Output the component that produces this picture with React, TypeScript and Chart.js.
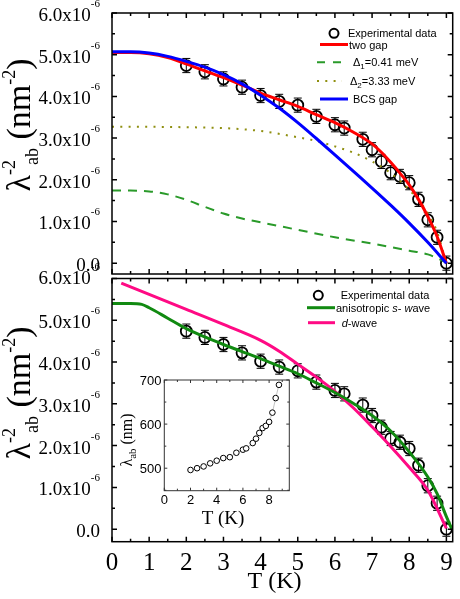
import React, { useEffect, useRef } from "react";
import { Chart, registerables } from "chart.js";
Chart.register(...registerables);

// ---- data (lambda^-2 in units of 1e-6 nm^-2) ----
const expT = [2, 2.5, 3, 3.5, 4, 4.5, 5, 5.5, 6, 6.25, 6.75, 7, 7.25, 7.5, 7.75, 8, 8.25, 8.5, 8.75, 9];
const expVal = [4.74, 4.59, 4.42, 4.22, 4.02, 3.88, 3.79, 3.52, 3.32, 3.24, 2.97, 2.72, 2.44, 2.17, 2.08, 1.93, 1.53, 1.04, 0.62, 0.0];
const expErr = 0.17;

const twoGapT = [0, 0.5, 1, 1.5, 2, 2.5, 3, 3.5, 4, 4.5, 5, 5.5, 6, 6.5, 7, 7.25, 7.5, 7.75, 8, 8.25, 8.5, 8.75, 9];
const twoGapVal = [5.05, 5.05, 5.02, 4.93, 4.78, 4.61, 4.45, 4.27, 4.08, 3.92, 3.76, 3.56, 3.37, 3.14, 2.86, 2.66, 2.42, 2.16, 1.88, 1.53, 1.12, 0.64, 0];

const gap1T = [0, 0.5, 1, 1.5, 2, 2.5, 3, 3.5, 4, 5, 6, 7, 8, 8.5, 9];
const gap1Val = [1.74, 1.74, 1.72, 1.65, 1.52, 1.35, 1.19, 1.07, 0.98, 0.8, 0.62, 0.47, 0.3, 0.21, 0.02];

const gap2T = [0, 1, 2, 3, 4, 5, 5.5, 6, 6.5, 7, 7.5, 8, 8.5, 8.75, 9];
const gap2Val = [3.27, 3.27, 3.26, 3.24, 3.17, 3.02, 2.93, 2.8, 2.65, 2.44, 2.16, 1.76, 1.2, 0.75, 0];

const bcsT = [0, 0.5, 1, 1.5, 2, 2.5, 3, 3.5, 4, 4.5, 5, 5.5, 6, 6.5, 7, 7.5, 8, 8.5, 9];
const bcsVal = [5.07, 5.07, 5.04, 4.96, 4.84, 4.7, 4.52, 4.3, 4.03, 3.72, 3.37, 2.99, 2.6, 2.2, 1.8, 1.39, 0.96, 0.5, 0];

const sWaveT = [0, 0.5, 0.8, 1, 1.5, 2, 2.5, 3, 3.5, 4, 4.5, 5, 5.5, 6, 6.5, 7, 7.5, 8, 8.5, 8.75, 9, 9.15];
const sWaveVal = [5.4, 5.4, 5.38, 5.3, 5.05, 4.8, 4.6, 4.42, 4.25, 4.08, 3.9, 3.72, 3.5, 3.27, 3.01, 2.72, 2.35, 1.85, 1.25, 0.85, 0.3, 0];

const dWaveT = [0.25, 1, 2, 3, 4, 4.5, 5, 5.5, 6, 6.5, 7, 7.5, 8, 8.5, 9];
const dWaveVal = [5.89, 5.62, 5.26, 4.9, 4.52, 4.26, 3.95, 3.64, 3.3, 2.9, 2.45, 1.98, 1.48, 0.93, 0.02];

const insetT = [2, 2.5, 3, 3.5, 4, 4.5, 5, 5.5, 6, 6.25, 6.75, 7, 7.25, 7.5, 7.75, 8, 8.25, 8.5, 8.75];
const insetLambda = [496, 500, 504, 511, 517, 523, 525, 535, 542, 545, 557, 567, 580, 591, 596, 605, 626, 659, 689];

const mainXTicks = [0, 1, 2, 3, 4, 5, 6, 7, 8, 9];
const mainYTicks = [0, 1, 2, 3, 4, 5, 6];
const insetXTicks = [0, 2, 4, 6, 8];
const insetYTicks = [500, 600, 700];

const SERIF = "'Liberation Serif', 'Times New Roman', serif";
const SANS = "'Liberation Sans', Arial, sans-serif";

const RED = "#ff0000";
const BLUE = "#0000ff";
const GREEN_D = "#2a9a2a";
const OLIVE = "#8f8f10";
const GREEN_S = "#118a11";
const MAGENTA = "#ff0a84";

const pts = (xs: number[], ys: number[]) => xs.map((x, i) => ({ x, y: ys[i] }));

type Seg = { t: string; size: number; dy?: number; dx?: number; italic?: boolean; fam?: string };
function fontOf(s: Seg, fam: string) {
  return `${s.italic ? "italic " : ""}${s.size}px ${s.fam || fam}`;
}
function drawSegs(ctx: CanvasRenderingContext2D, segs: Seg[], x: number, y: number, align: string, fam: string) {
  let total = 0;
  const ws = segs.map((s) => {
    ctx.font = fontOf(s, fam);
    const w = ctx.measureText(s.t).width;
    total += w + (s.dx || 0);
    return w;
  });
  let cur = align === "left" ? x : align === "center" ? x - total / 2 : x - total;
  ctx.textAlign = "left";
  ctx.textBaseline = "alphabetic";
  segs.forEach((s, i) => {
    cur += s.dx || 0;
    ctx.font = fontOf(s, fam);
    ctx.fillText(s.t, cur, y + (s.dy || 0));
    cur += ws[i];
  });
}

function drawFrame(chart: any, o: any) {
  const { ctx, chartArea: a, scales } = chart;
  const x = scales.x, y = scales.y;
  ctx.save();
  ctx.strokeStyle = o.color;
  ctx.lineWidth = o.lw;
  ctx.beginPath();
  const line = (x1: number, y1: number, x2: number, y2: number) => {
    ctx.moveTo(x1, y1);
    ctx.lineTo(x2, y2);
  };
  o.xMajor.forEach((v: number) => {
    const p = x.getPixelForValue(v);
    line(p, a.bottom, p, a.bottom - o.maj);
    line(p, a.top, p, a.top + o.maj);
  });
  o.xMinor.forEach((v: number) => {
    const p = x.getPixelForValue(v);
    line(p, a.bottom, p, a.bottom - o.min);
    line(p, a.top, p, a.top + o.min);
  });
  o.yMajor.forEach((v: number) => {
    const p = y.getPixelForValue(v);
    line(a.left, p, a.left + o.maj, p);
    line(a.right, p, a.right - o.maj, p);
  });
  o.yMinor.forEach((v: number) => {
    const p = y.getPixelForValue(v);
    line(a.left, p, a.left + o.min, p);
    line(a.right, p, a.right - o.min, p);
  });
  ctx.stroke();
  ctx.strokeRect(a.left, a.top, a.right - a.left, a.bottom - a.top);
  ctx.restore();
}

function midpoints(t: number[], lo: number, hi: number) {
  const out: number[] = [];
  const step = t[1] - t[0];
  for (let i = 0; i < t.length + 1; i++) {
    const v = t[0] + step * (i - 0.5);
    if (v > lo && v < hi) out.push(v);
  }
  return out;
}

function drawYLabels(chart: any, topShift: number) {
  const { ctx, scales } = chart;
  ctx.save();
  ctx.fillStyle = "#000";
  mainYTicks.forEach((v) => {
    const p = scales.y.getPixelForValue(v) + (v === 6 ? topShift : 0);
    if (v === 0) {
      drawSegs(ctx, [{ t: "0.0", size: 19 }], 100, p + 8, "right", SERIF);
    } else {
      drawSegs(ctx, [{ t: v.toFixed(1) + "x10", size: 19 }, { t: "-6", size: 11, dy: -14 }], 100, p + 8, "right", SERIF);
    }
  });
  ctx.restore();
}

function drawYTitle(ctx: CanvasRenderingContext2D, bx: number, cy: number) {
  ctx.save();
  ctx.fillStyle = "#000";
  ctx.translate(bx, cy);
  ctx.rotate(-Math.PI / 2);
  drawSegs(
    ctx,
    [
      { t: "λ", size: 34 },
      { t: "-2", size: 18, dy: -15 },
      { t: "ab", size: 18, dy: 8, dx: -5 },
      { t: " (nm", size: 34 },
      { t: "-2", size: 18, dy: -15 },
      { t: ")", size: 34 },
    ],
    0,
    0,
    "center",
    SERIF
  );
  ctx.restore();
}

function errorBars(chart: any) {
  const { ctx, scales } = chart;
  ctx.save();
  ctx.strokeStyle = "#000";
  ctx.lineWidth = 1;
  ctx.beginPath();
  expT.forEach((t, i) => {
    const px = scales.x.getPixelForValue(t);
    const y1 = scales.y.getPixelForValue(expVal[i] + expErr);
    const y2 = scales.y.getPixelForValue(expVal[i] - expErr);
    ctx.moveTo(px, y1);
    ctx.lineTo(px, y2);
    ctx.moveTo(px - 4, y1);
    ctx.lineTo(px + 4, y1);
    ctx.moveTo(px - 4, y2);
    ctx.lineTo(px + 4, y2);
  });
  ctx.stroke();
  ctx.restore();
}

function legendCircle(ctx: CanvasRenderingContext2D, x: number, y: number) {
  ctx.beginPath();
  ctx.lineWidth = 2;
  ctx.strokeStyle = "#000";
  ctx.arc(x, y, 4.5, 0, Math.PI * 2);
  ctx.stroke();
}
function legendLine(ctx: CanvasRenderingContext2D, x1: number, x2: number, y: number, color: string, lw: number, dash: number[]) {
  ctx.save();
  ctx.beginPath();
  ctx.strokeStyle = color;
  ctx.lineWidth = lw;
  ctx.setLineDash(dash);
  ctx.moveTo(x1, y);
  ctx.lineTo(x2, y);
  ctx.stroke();
  ctx.restore();
}

const frameMain = {
  color: "#000",
  lw: 1.5,
  maj: 5,
  min: 3,
  xMajor: mainXTicks,
  xMinor: midpoints(mainXTicks, 0, 9.17),
  yMajor: mainYTicks,
  yMinor: midpoints(mainYTicks, -0.3, 6),
};

const topPlugin = {
  id: "topDeco",
  beforeDatasetsDraw(chart: any) {
    errorBars(chart);
  },
  afterDraw(chart: any) {
    const ctx = chart.ctx;
    drawFrame(chart, frameMain);
    drawYLabels(chart, 0);
    drawYTitle(ctx, 30, 125);
    ctx.save();
    ctx.fillStyle = "#000";
    legendCircle(ctx, 334, 33.3);
    drawSegs(ctx, [{ t: "Experimental data", size: 11 }], 348, 37.3, "left", SANS);
    legendLine(ctx, 320, 348, 44.5, RED, 3, []);
    drawSegs(ctx, [{ t: "two gap", size: 11 }], 349, 48.5, "left", SANS);
    legendLine(ctx, 317, 342, 62.3, GREEN_D, 2, [8, 8]);
    drawSegs(ctx, [{ t: "Δ", size: 11 }, { t: "1", size: 8, dy: 3 }, { t: "=0.41 meV", size: 11 }], 353, 66.3, "left", SANS);
    legendLine(ctx, 317, 342, 81, OLIVE, 2, [2, 6.3]);
    drawSegs(ctx, [{ t: "Δ", size: 11 }, { t: "2", size: 8, dy: 3 }, { t: "=3.33 meV", size: 11 }], 350, 85, "left", SANS);
    legendLine(ctx, 320, 348, 99, BLUE, 3, []);
    drawSegs(ctx, [{ t: "BCS gap", size: 11 }], 353, 103, "left", SANS);
    ctx.restore();
  },
};

const bottomPlugin = {
  id: "bottomDeco",
  beforeDatasetsDraw(chart: any) {
    errorBars(chart);
  },
  afterDraw(chart: any) {
    const ctx = chart.ctx;
    drawFrame(chart, frameMain);
    drawYLabels(chart, -3);
    drawYTitle(ctx, 30, 393);
    ctx.save();
    ctx.fillStyle = "#000";
    mainXTicks.forEach((v) => {
      const p = chart.scales.x.getPixelForValue(v);
      drawSegs(ctx, [{ t: String(v), size: 25 }], p, 570, "center", SERIF);
    });
    drawSegs(ctx, [{ t: "T (K)", size: 24 }], 274.5, 588, "center", SERIF);
    legendCircle(ctx, 318.3, 295.3);
    drawSegs(ctx, [{ t: "Experimental data", size: 11 }], 340.7, 299.3, "left", SANS);
    legendLine(ctx, 307, 335, 307.7, GREEN_S, 3, []);
    drawSegs(ctx, [{ t: "anisotropic ", size: 11 }, { t: "s", size: 11, italic: true }, { t: "- ", size: 11 }, { t: "w", size: 11, italic: true }, { t: "ave", size: 11 }], 336, 311.7, "left", SANS);
    legendLine(ctx, 308, 335, 322.7, MAGENTA, 3, []);
    drawSegs(ctx, [{ t: "d", size: 11, italic: true }, { t: "-wave", size: 11 }], 341.7, 326.7, "left", SANS);
    ctx.restore();
  },
};

const insetPlugin = {
  id: "insetDeco",
  afterDraw(chart: any) {
    const ctx = chart.ctx;
    drawFrame(chart, {
      color: "#333",
      lw: 1,
      maj: 3,
      min: 2,
      xMajor: insetXTicks,
      xMinor: midpoints(insetXTicks, 0, 9.54),
      yMajor: insetYTicks,
      yMinor: midpoints(insetYTicks, 449, 700),
    });
    ctx.save();
    ctx.fillStyle = "#000";
    insetXTicks.forEach((v) => {
      const p = chart.scales.x.getPixelForValue(v);
      drawSegs(ctx, [{ t: String(v), size: 13 }], p, 504, "center", SANS);
    });
    insetYTicks.forEach((v) => {
      const p = chart.scales.y.getPixelForValue(v);
      drawSegs(ctx, [{ t: String(v), size: 13 }], 161.5, p + 4.5, "right", SANS);
    });
    drawSegs(ctx, [{ t: "T (K)", size: 19 }], 223, 524, "center", SERIF);
    ctx.translate(132, 440);
    ctx.rotate(-Math.PI / 2);
    drawSegs(ctx, [{ t: "λ", size: 16 }, { t: "ab", size: 11, dy: 4 }, { t: " (nm)", size: 16 }], 0, 0, "center", SERIF);
    ctx.restore();
  },
};

function baseOptions(padding: any, xr: number[], yr: number[]) {
  return {
    animation: false,
    responsive: false,
    devicePixelRatio: 1,
    events: [],
    layout: { padding },
    scales: {
      x: { type: "linear", min: xr[0], max: xr[1], display: false },
      y: { type: "linear", min: yr[0], max: yr[1], display: false },
    },
    plugins: { legend: { display: false }, tooltip: { enabled: false }, title: { display: false } },
  };
}

const lineDs = (data: any, color: string, width: number, dash: number[], order: number) => ({
  type: "scatter",
  data,
  showLine: true,
  borderColor: color,
  backgroundColor: color,
  borderWidth: width,
  borderDash: dash,
  pointRadius: 0,
  cubicInterpolationMode: "monotone",
  order,
});

const expDs = (order: number) => ({
  type: "scatter",
  data: pts(expT, expVal),
  pointRadius: 5.5,
  pointBorderWidth: 1.8,
  pointBorderColor: "#000",
  pointBackgroundColor: "rgba(0,0,0,0)",
  borderColor: "#000",
  backgroundColor: "rgba(0,0,0,0)",
  showLine: false,
  order,
});

export default function App() {
  const topRef = useRef<HTMLCanvasElement>(null);
  const botRef = useRef<HTMLCanvasElement>(null);
  const insRef = useRef<HTMLCanvasElement>(null);

  useEffect(() => {
    const top = new Chart(topRef.current as HTMLCanvasElement, {
      type: "scatter",
      data: {
        datasets: [
          expDs(6),
          lineDs(pts(twoGapT, twoGapVal), RED, 3, [], 1),
          lineDs(pts(gap1T, gap1Val), GREEN_D, 2, [9, 7], 3),
          lineDs(pts(gap2T, gap2Val), OLIVE, 2, [2, 6.3], 2),
          lineDs(pts(bcsT, bcsVal), BLUE, 3, [], 0),
        ] as any,
      },
      options: baseOptions({ left: 112, right: 7, top: 13, bottom: 325 }, [0, 9.17], [-0.26, 6]) as any,
      plugins: [topPlugin],
    });
    const bot = new Chart(botRef.current as HTMLCanvasElement, {
      type: "scatter",
      data: {
        datasets: [
          expDs(6),
          lineDs(pts(sWaveT, sWaveVal), GREEN_S, 3, [], 0),
          lineDs(pts(dWaveT, dWaveVal), MAGENTA, 3, [], 1),
        ] as any,
      },
      options: baseOptions({ left: 112, right: 7, top: 278.5, bottom: 57.3 }, [0, 9.17], [-0.3, 6]) as any,
      plugins: [bottomPlugin],
    });
    const ins = new Chart(insRef.current as HTMLCanvasElement, {
      type: "scatter",
      data: {
        datasets: [
          {
            type: "scatter",
            data: pts(insetT, insetLambda),
            showLine: true,
            borderColor: "#999",
            borderWidth: 0.6,
            pointRadius: 2.8,
            pointBorderWidth: 1,
            pointBorderColor: "#000",
            pointBackgroundColor: "#fff",
          },
        ] as any,
      },
      options: baseOptions({ left: 164.3, right: 170.7, top: 380, bottom: 108.3 }, [0, 9.54], [449, 700]) as any,
      plugins: [insetPlugin],
    });
    return () => {
      top.destroy();
      bot.destroy();
      ins.destroy();
    };
  }, []);

  const cs: React.CSSProperties = { position: "absolute", left: 0, top: 0, width: 460, height: 599 };
  return (
    <div style={{ position: "absolute", left: 0, top: 0, width: 460, height: 599, background: "#fff" }}>
      <canvas ref={botRef} width={460} height={599} style={cs} />
      <canvas ref={topRef} width={460} height={599} style={cs} />
      <canvas ref={insRef} width={460} height={599} style={cs} />
    </div>
  );
}
